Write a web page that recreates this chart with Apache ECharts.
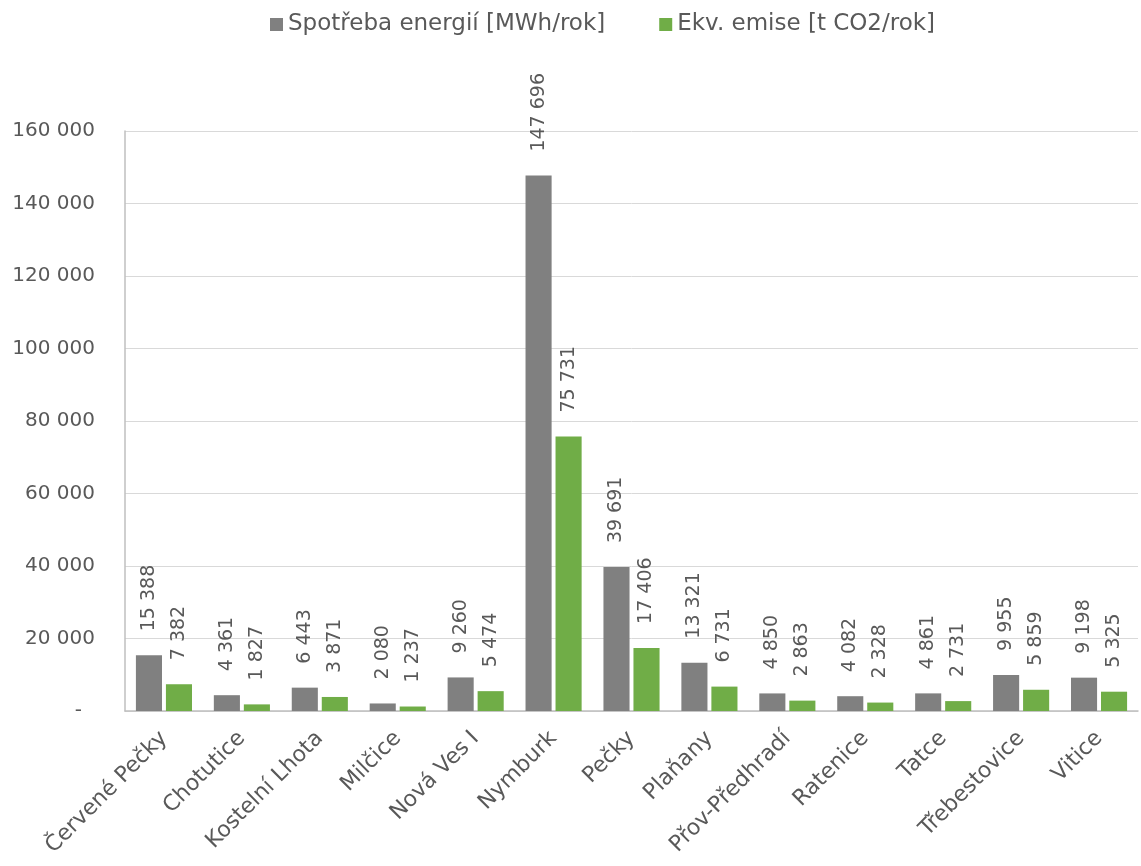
<!DOCTYPE html>
<html>
<head>
<meta charset="utf-8">
<script src="https://cdn.jsdelivr.net/npm/echarts@6/dist/echarts.min.js"></script>
<style>html,body{margin:0;padding:0;background:#fff}#c{width:1141px;height:866px}</style>
</head>
<body>
<div id="c"></div>
<script>
const categories = ['Červené Pečky','Chotutice','Kostelní Lhota','Milčice','Nová Ves I','Nymburk','Pečky','Plaňany','Přov-Předhradí','Ratenice','Tatce','Třebestovice','Vitice'];
const energie = [15388,4361,6443,2080,9260,147696,39691,13321,4850,4082,4861,9955,9198];
const emise = [7382,1827,3871,1237,5474,75731,17406,6731,2863,2328,2731,5859,5325];
const seriesNames = ['Spotřeba energií [MWh/rok]','Ekv. emise [t CO2/rok]'];

const FONT = 'DejaVu Sans';
const TXT = '#595959';
function fmt(v){
  if (v === 0) return '-';
  return String(Math.round(v)).replace(/\B(?=(\d{3})+(?!\d))/g, ' ');
}
const labelCfg = {
  show: true, position: 'top', rotate: 90, align: 'left', verticalAlign: 'middle',
  distance: 24, color: TXT, fontFamily: FONT, fontSize: 19,
  formatter: p => fmt(p.value)
};
const chart = echarts.init(document.getElementById('c'), null, {renderer:'canvas'});
chart.setOption({
  animation: false,
  textStyle: {fontFamily: FONT},
  legend: {
    top: 13, left: 270, padding: 0, itemWidth: 13, itemHeight: 13, itemGap: 54,
    icon: 'rect',
    textStyle: {color: TXT, fontFamily: FONT, fontSize: 23},
    data: seriesNames
  },
  grid: {left: 125, right: 3, top: 131, bottom: 155, containLabel: false},
  xAxis: {
    type: 'category', data: categories,
    axisLine: {lineStyle: {color: '#bfbfbf', width: 1.5}},
    axisTick: {show: false},
    axisLabel: {rotate: 45, color: TXT, fontFamily: FONT, fontSize: 22, margin: 24, interval: 0}
  },
  yAxis: {
    type: 'value', min: 0, max: 160000, interval: 20000,
    axisLine: {show: true, lineStyle: {color: '#bfbfbf', width: 1.5}},
    axisTick: {show: false},
    splitLine: {lineStyle: {color: '#d9d9d9', width: 1}},
    axisLabel: {
      color: TXT, fontFamily: FONT, fontSize: 20, margin: 30,
      formatter: v => v === 0 ? '{z|-}' : fmt(v),
      rich: {z: {color: TXT, fontFamily: FONT, fontSize: 20, padding: [0, 13, 0, 0]}}
    }
  },
  series: [
    {name: seriesNames[0], type: 'bar', data: energie, itemStyle: {color: '#808080'},
     barGap: '15%', barCategoryGap: '28%', label: labelCfg},
    {name: seriesNames[1], type: 'bar', data: emise, itemStyle: {color: '#70AD47'},
     label: labelCfg}
  ]
});
</script>
</body>
</html>
